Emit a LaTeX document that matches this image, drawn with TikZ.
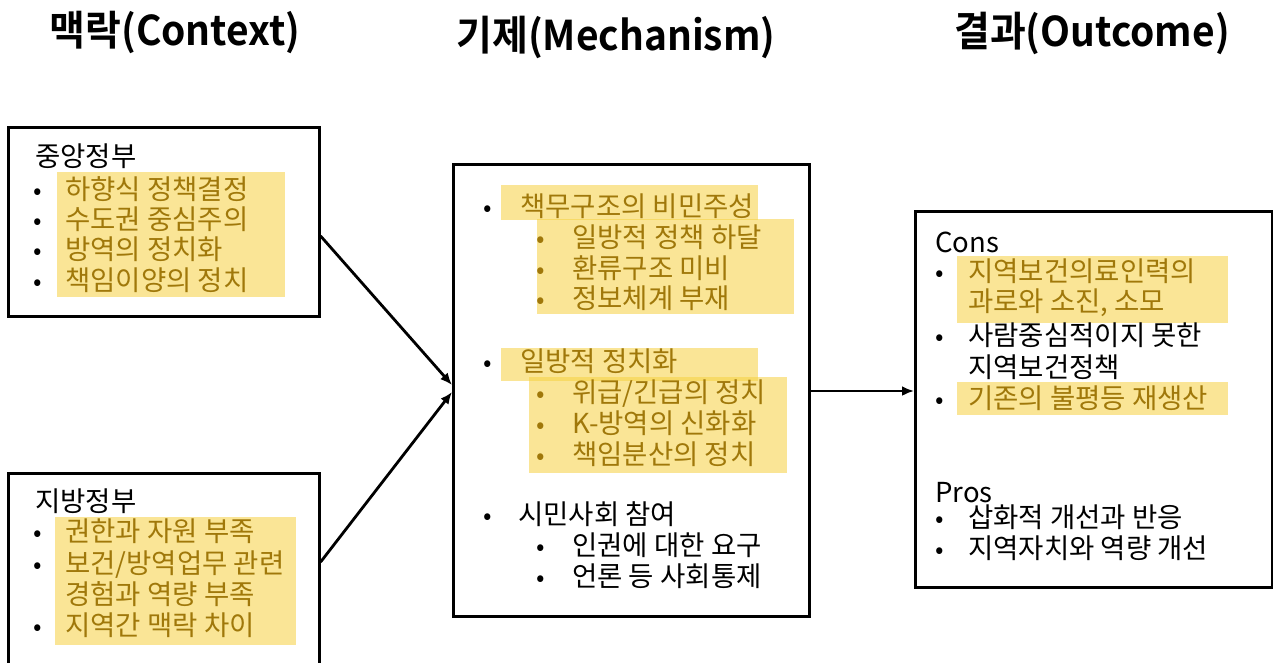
\documentclass[tikz,border=0pt]{standalone}
\usepackage{fontspec}
\usepackage{graphicx}
\usetikzlibrary{arrows.meta,calc}
\newfontfamily\bodyfont{Noto Sans CJK KR}[WordSpace=2.2]
\newfontfamily\titlefont{Noto Sans CJK KR}[BoldFont={* Bold}]
\definecolor{hlfill}{RGB}{245,208,64}
\definecolor{hltext}{RGB}{160,120,10}
\tikzset{
  txt/.style={anchor=base west, inner sep=0pt, font=\bodyfont\fontsize{27.5}{32}\selectfont},
  hltxt/.style={txt, text=hltext},
  bul/.style={anchor=base, inner sep=0pt, font=\bodyfont\fontsize{25}{30}\selectfont},
  hlbul/.style={bul, text=hltext},
  ttl/.style={anchor=base, inner sep=0pt, font=\titlefont\bfseries\fontsize{41}{44}\selectfont},
  box/.style={draw, line width=2.6pt, inner sep=0pt, anchor=north west},
  hl/.style={fill=hlfill, fill opacity=0.55, draw=none},
  arr/.style={line width=2.8pt, -{Latex[length=12pt,width=10pt]}}
}
\begin{document}
\begin{tikzpicture}[x=1pt,y=-1pt]
\useasboundingbox (0,0) rectangle (1273,662);
% titles
\node[ttl] (h1) at (175,45) {\scalebox{0.95}[1]{맥락(Context)}};
\node[ttl] (h2) at (616,50) {\scalebox{0.95}[1]{기제(Mechanism)}};
\node[ttl] (h3) at (1092,46) {\scalebox{0.95}[1]{결과(Outcome)}};
% highlights
\fill[hl] (57,172) rectangle (285,297);
\fill[hl] (55,517) rectangle (296,645);
\fill[hl] (501,185) rectangle (758,220);
\fill[hl] (537,219) rectangle (794,314);
\fill[hl] (501,348) rectangle (758,381);
\fill[hl] (529,377) rectangle (787,473);
\fill[hl] (957,256) rectangle (1228,323);
\fill[hl] (957,382) rectangle (1228,415);
% boxes
\node[box, minimum width=311pt, minimum height=189pt] (b1) at (7,126) {};
\node[box, minimum width=311pt, minimum height=210pt] (b2) at (7,472) {};
\node[box, minimum width=356pt, minimum height=452pt] (b3) at (452,163) {};
\node[box, minimum width=357pt, minimum height=376pt] (b4) at (914,210) {};
% box 1
\node[txt] (a0) at (35,166) {중앙정부};
\node[bul] (ab1) at (38,199) {•}; \node[hltxt] (a1) at (65,199) {하향식 정책결정};
\node[bul] (ab2) at (38,229) {•}; \node[hltxt] (a2) at (65,229) {수도권 중심주의};
\node[bul] (ab3) at (38,259) {•}; \node[hltxt] (a3) at (65,259) {방역의 정치화};
\node[bul] (ab4) at (38,290) {•}; \node[hltxt] (a4) at (65,290) {책임이양의 정치};
% box 2
\node[txt] (c0) at (35,511) {지방정부};
\node[bul] (cb1) at (38,541) {•}; \node[hltxt] (c1) at (65,541) {권한과 자원 부족};
\node[bul] (cb2) at (38,573) {•}; \node[hltxt] (c2) at (65,573) {보건/방역업무 관련};
\node[hltxt] (c3) at (65,604) {경험과 역량 부족};
\node[bul] (cb4) at (38,635) {•}; \node[hltxt] (c4) at (65,635) {지역간 맥락 차이};
% box 3
\node[bul] (mb1) at (488,216) {•}; \node[hltxt] (m1) at (520,216) {책무구조의 비민주성};
\node[hlbul] (mb2) at (541,247) {•}; \node[hltxt] (m2) at (572,247) {일방적 정책 하달};
\node[hlbul] (mb3) at (541,278) {•}; \node[hltxt] (m3) at (572,278) {환류구조 미비};
\node[hlbul] (mb4) at (541,308) {•}; \node[hltxt] (m4) at (572,308) {정보체계 부재};
\node[bul] (mb5) at (488,371) {•}; \node[hltxt] (m5) at (520,371) {일방적 정치화};
\node[hlbul] (mb6) at (541,402) {•}; \node[hltxt] (m6) at (572,402) {위급/긴급의 정치};
\node[hlbul] (mb7) at (541,433) {•}; \node[hltxt] (m7) at (572,433) {K-방역의 신화화};
\node[hlbul] (mb8) at (541,464) {•}; \node[hltxt] (m8) at (572,464) {책임분산의 정치};
\node[bul] (mb9) at (488,524) {•}; \node[txt] (m9) at (518,524) {시민사회 참여};
\node[bul] (mb10) at (541,555) {•}; \node[txt] (m10) at (572,555) {인권에 대한 요구};
\node[bul] (mb11) at (541,586) {•}; \node[txt] (m11) at (572,586) {언론 등 사회통제};
% box 4
\node[txt] (o0) at (935,252) {Cons};
\node[bul] (ob1) at (940,281) {•}; \node[hltxt] (o1) at (968,281) {지역보건의료인력의};
\node[hltxt] (o2) at (968,311) {과로와 소진, 소모};
\node[bul] (ob3) at (940,345) {•}; \node[txt] (o3) at (968,345) {사람중심적이지 못한};
\node[txt] (o4) at (968,377) {지역보건정책};
\node[bul] (ob5) at (940,408) {•}; \node[hltxt] (o5) at (968,408) {기존의 불평등 재생산};
\node[txt] (p0) at (935,502) {Pros};
\node[bul] (pb1) at (940,527) {•}; \node[txt] (p1) at (968,527) {삽화적 개선과 반응};
\node[bul] (pb2) at (940,558) {•}; \node[txt] (p2) at (968,558) {지역자치와 역량 개선};
% connectors
\coordinate (s1) at ($(b1.north east)+(0,110)$);
\coordinate (e1) at ($(b3.north west)+(0,222)$);
\coordinate (s2) at ($(b2.north east)+(0,90)$);
\coordinate (e2) at ($(b3.north west)+(0,229)$);
\coordinate (s3) at ($(b3.north east)+(0,228)$);
\draw[arr] (s1) -- (e1);
\draw[arr] (s2) -- (e2);
\draw[arr] (s3) -- (s3 -| b4.west);
\end{tikzpicture}
\end{document}
